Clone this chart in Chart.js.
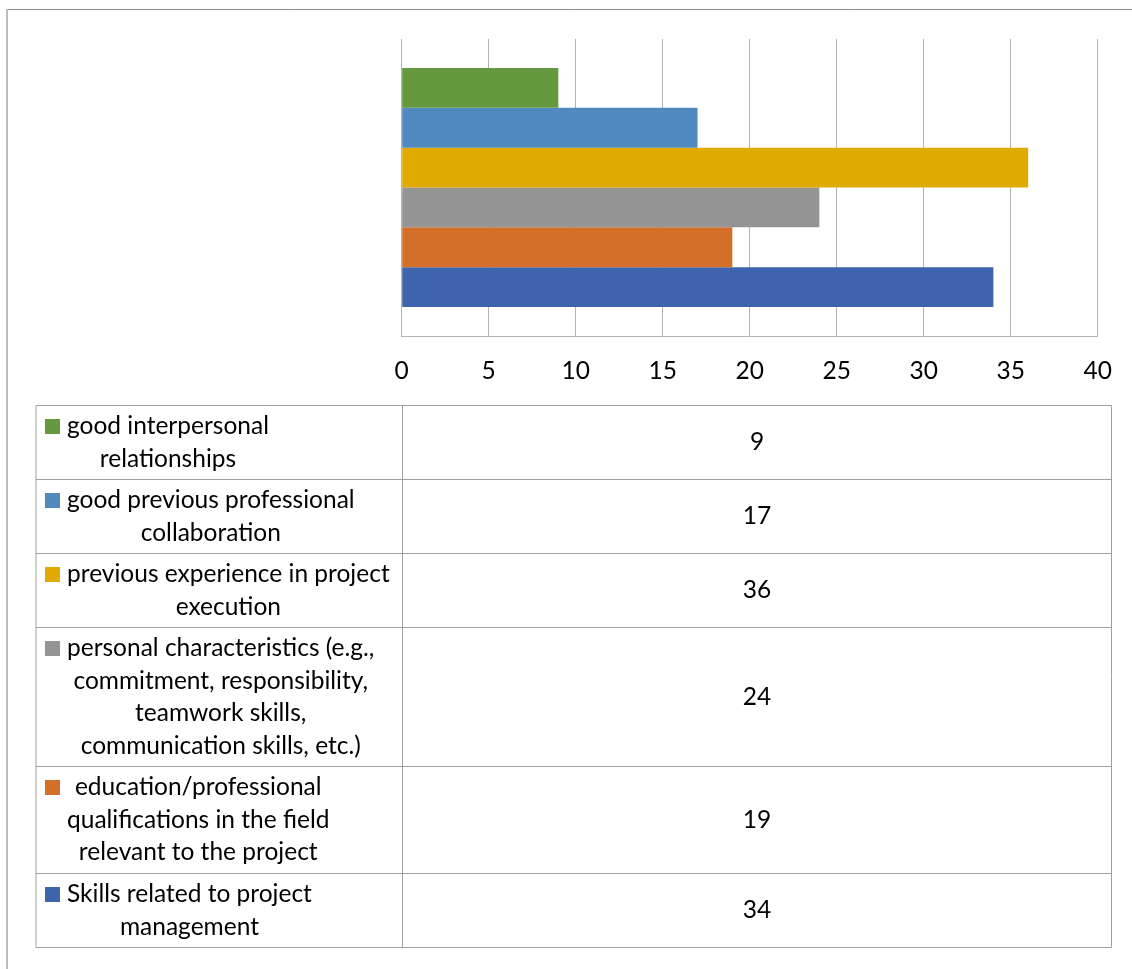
<!DOCTYPE html>
<html>
<head>
<meta charset="utf-8">
<title>Selection criteria</title>
<script src="https://cdn.jsdelivr.net/npm/chart.js@4.4.1/dist/chart.umd.min.js"></script>
<style>
  body { margin: 0; background: #ffffff; }
  #wrap { width: 1132px; height: 969px; }
</style>
</head>
<body>
<div id="wrap"><canvas id="criteriaChart" width="1132" height="969"></canvas></div>
<script>
const categories = [
  ["good interpersonal", "relationships"],
  ["good previous professional", "collaboration"],
  ["previous experience in project", "execution"],
  ["personal characteristics (e.g.,", "commitment, responsibility,", "teamwork skills,", "communication skills, etc.)"],
  ["education/professional", "qualifications in the field", "relevant to the project"],
  ["Skills related to project", "management"]
];
const values = [9, 17, 36, 24, 19, 34];
const axisMin = 0;
const axisMax = 40;
const axisStep = 5;

const palette = ["#64993f", "#508abe", "#e0aa00", "#949494", "#d46f2a", "#3d64ac"];

const FONT = "Lato";
const FONT_SIZE = 24.5;
const LINE_PITCH = 32.5;
const GRID_COLOR = "#b3b3b3";
const TABLE_LINE = "#a0a0a0";

// outer frame of the chart object (runs off the right and bottom edge)
const framePlugin = {
  id: "frame",
  beforeDraw(chart) {
    const c = chart.ctx;
    c.save();
    c.fillStyle = "#ffffff";
    c.fillRect(0, 0, chart.width, chart.height);
    c.strokeStyle = "#8c8c8c";
    c.lineWidth = 1;
    c.beginPath();
    c.moveTo(7, 9.5);
    c.lineTo(chart.width, 9.5);
    c.stroke();
    c.strokeStyle = "#bdbdbd";
    c.lineWidth = 2;
    c.beginPath();
    c.moveTo(7, 9);
    c.lineTo(7, chart.height);
    c.stroke();
    c.restore();
  }
};

// data table with legend keys underneath the axis
const dataTablePlugin = {
  id: "dataTable",
  afterDraw(chart) {
    const c = chart.ctx;
    const xScale = chart.scales.x;
    const left = 36;
    const divider = Math.round(xScale.getPixelForValue(axisMin)) + 0.5;
    const right = 1111.5;
    let top = 405.5;

    const rows = categories.map((lines, i) => ({
      lines,
      value: values[i],
      color: chart.data.datasets[i].backgroundColor,
      height: Math.round(lines.length * LINE_PITCH + 9)
    }));
    const bottom = top + rows.reduce((s, r) => s + r.height, 0);

    c.save();
    c.font = `${FONT_SIZE}px ${FONT}`;
    c.textBaseline = "middle";
    c.fillStyle = "#000000";

    let y = top;
    rows.forEach((row) => {
      const blockTop = y + (row.height - row.lines.length * LINE_PITCH) / 2;
      const firstMid = blockTop + LINE_PITCH / 2;

      // legend key
      c.fillStyle = row.color;
      c.fillRect(45, Math.round(firstMid - 7.5), 15, 15);

      // label lines centred on the widest line
      c.fillStyle = "#000000";
      c.textAlign = "center";
      const widest = Math.max(...row.lines.map((l) => c.measureText(l).width));
      const textCenter = 67 + widest / 2;
      row.lines.forEach((line, k) => {
        c.fillText(line, textCenter, firstMid + k * LINE_PITCH);
      });

      // value cell
      c.fillText(String(row.value), (divider + right) / 2, y + row.height / 2);
      y += row.height;
    });

    // grid of the table
    c.strokeStyle = TABLE_LINE;
    c.lineWidth = 1;
    c.beginPath();
    y = top;
    c.moveTo(left, y);
    c.lineTo(right, y);
    rows.forEach((row) => {
      y += row.height;
      c.moveTo(left, y);
      c.lineTo(right, y);
    });
    c.moveTo(left, top);
    c.lineTo(left, bottom);
    c.moveTo(divider, top);
    c.lineTo(divider, bottom);
    c.moveTo(right, top);
    c.lineTo(right, bottom);
    c.stroke();
    c.restore();
  }
};

function buildChart() {
  const ctx = document.getElementById("criteriaChart");
  new Chart(ctx, {
    type: "bar",
    data: {
      labels: [""],
      datasets: categories.map((lines, i) => ({
        label: lines.join(" "),
        data: [values[i]],
        backgroundColor: palette[i],
        borderWidth: 0,
        barPercentage: 1,
        categoryPercentage: 0.805
      }))
    },
    options: {
      indexAxis: "y",
      responsive: false,
      animation: false,
      layout: {
        padding: { left: 401.7, right: 33.7, top: 39, bottom: 563.6 }
      },
      plugins: {
        legend: { display: false },
        tooltip: { enabled: false }
      },
      scales: {
        x: {
          min: axisMin,
          max: axisMax,
          border: { color: GRID_COLOR, width: 1 },
          grid: {
            color: GRID_COLOR,
            lineWidth: 1,
            drawTicks: false
          },
          ticks: {
            stepSize: axisStep,
            padding: 20,
            color: "#000000",
            font: { family: FONT, size: FONT_SIZE }
          }
        },
        y: {
          display: false
        }
      }
    },
    plugins: [framePlugin, dataTablePlugin]
  });
}

document.fonts.load(`${FONT_SIZE}px ${FONT}`).then(buildChart, buildChart);
</script>
</body>
</html>
